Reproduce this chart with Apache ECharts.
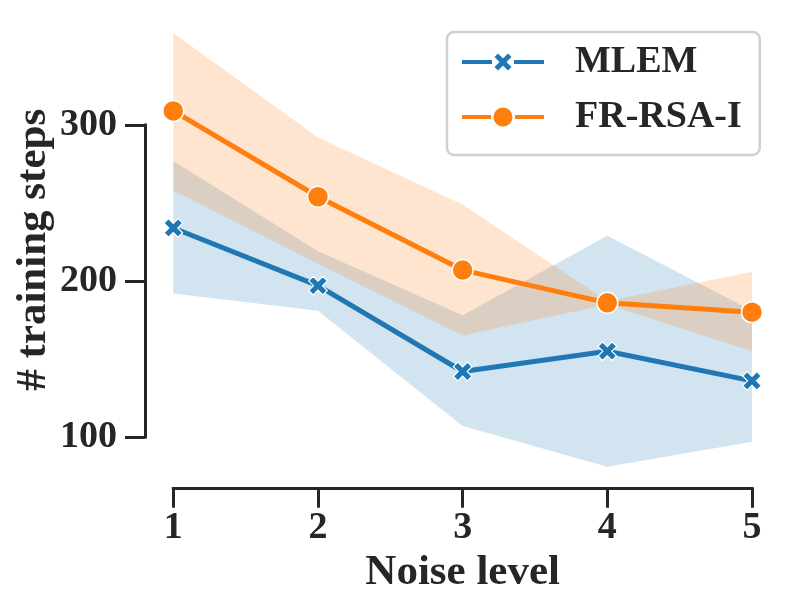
<!DOCTYPE html>
<html>
<head>
<meta charset="utf-8">
<script src="https://cdn.jsdelivr.net/npm/echarts@6/dist/echarts.min.js"></script>
<style>
html,body{margin:0;padding:0;background:#fff;}
#chart{width:794px;height:606px;}
</style>
</head>
<body>
<div id="chart"></div>
<script>
// ---- data ----
const noiseLevels = ['1', '2', '3', '4', '5'];
const mlemMean  = [234, 197, 142, 155, 136];
const mlemLower = [192, 181, 107, 81, 97];
const mlemUpper = [277, 219, 178, 229, 181];
const frMean    = [309, 254, 207, 186, 180];
const frLower   = [258, 211, 165, 185, 155];
const frUpper   = [359, 292, 249, 187, 206];
const yTicks = [100, 200, 300];
const seriesNames = ['MLEM', 'FR-RSA-I'];

// ---- style ----
const BLUE = '#1f77b4', ORANGE = '#ff7f0e', INK = '#262626';
const FONT = '"Liberation Serif", "Times New Roman", serif';
const XPATH = 'path://M3.4,0L6.6,0L6.6,3.4L10,3.4L10,6.6L6.6,6.6L6.6,10L3.4,10L3.4,6.6L0,6.6L0,3.4L3.4,3.4Z';
const LEG_X = 'path://M0,0L0,20M0,8L30,8L30,12L0,12ZM52,8L82,8L82,12L52,12Z' +
  'M32.5,5.04L36.04,1.5L41,6.46L45.96,1.5L49.5,5.04L44.46,10L49.5,14.96L45.96,18.5L41,13.54L36.04,18.5L32.5,14.96L37.54,10Z';
const LEG_O = 'path://M0,8L29,8L29,12L0,12ZM53,8L82,8L82,12L53,12Z' +
  'M31.5,10A9.5,9.5 0 1,1 50.5,10A9.5,9.5 0 1,1 31.5,10ZM41,0L41,20';

const diff = (u, l) => u.map((v, i) => v - l[i]);

const chart = echarts.init(document.getElementById('chart'), null, {renderer: 'canvas'});

function band(stack, lower, upper, color) {
  return [
    {type: 'line', name: stack + '_lo', stack: stack, data: lower, symbol: 'none',
     lineStyle: {opacity: 0}, silent: true, z: 1},
    {type: 'line', name: stack + '_hi', stack: stack, data: diff(upper, lower), symbol: 'none',
     lineStyle: {opacity: 0}, areaStyle: {color: color, opacity: 0.2}, silent: true, z: 1}
  ];
}

const legendItemStyle = c => ({color: c, borderWidth: 0, borderColor: 'transparent'});

const option = {
  animation: false,
  backgroundColor: '#fff',
  textStyle: {fontFamily: FONT},
  grid: [
    {left: 173.3, right: 42, top: 15.8, bottom: 122.2},
    {left: 145, width: 1, top: 125, bottom: 169}
  ],
  xAxis: [
    {gridIndex: 0, type: 'category', data: noiseLevels, boundaryGap: false, offset: 4,
     axisLine: {show: true, lineStyle: {color: INK, width: 3, cap: 'square'}},
     axisTick: {show: true, length: 20, lineStyle: {color: INK, width: 3}},
     axisLabel: {color: INK, fontFamily: FONT, fontWeight: 'bold', fontSize: 38, margin: 21},
     splitLine: {show: false},
     name: 'Noise level', nameLocation: 'middle', nameGap: 61,
     nameTextStyle: {color: INK, fontFamily: FONT, fontWeight: 'bold', fontSize: 43}},
    {gridIndex: 1, type: 'value', min: 0, max: 1, show: false}
  ],
  yAxis: [
    {gridIndex: 0, type: 'value', min: 70, max: 370,
     axisLine: {show: false}, axisTick: {show: false}, axisLabel: {show: false},
     splitLine: {show: false},
     name: '# training steps', nameLocation: 'middle', nameGap: 118, nameRotate: 90,
     nameTextStyle: {color: INK, fontFamily: FONT, fontWeight: 'bold', fontSize: 43}},
    {gridIndex: 1, type: 'value', min: yTicks[0], max: yTicks[yTicks.length - 1], interval: 100,
     axisLine: {show: true, lineStyle: {color: INK, width: 3, cap: 'square'}},
     axisTick: {show: true, length: 20, lineStyle: {color: INK, width: 3}},
     axisLabel: {color: INK, fontFamily: FONT, fontWeight: 'bold', fontSize: 38, margin: 28},
     splitLine: {show: false}}
  ],
  legend: {
    data: [{name: seriesNames[0], icon: LEG_X, itemStyle: legendItemStyle(BLUE)},
           {name: seriesNames[1], icon: LEG_O, itemStyle: legendItemStyle(ORANGE)}],
    orient: 'vertical',
    left: 447, top: 32,
    padding: [10, 18, 18, 15],
    itemWidth: 82, itemHeight: 20, itemGap: 15,
    borderColor: '#d0d0d0', borderWidth: 2.5, borderRadius: 7,
    backgroundColor: '#fff',
    textStyle: {color: INK, fontFamily: FONT, fontWeight: 'bold', fontSize: 38,
                lineHeight: 40, padding: [0, 0, 0, 26]}
  },
  series: [
    ...band('mlemBand', mlemLower, mlemUpper, BLUE),
    ...band('frBand', frLower, frUpper, ORANGE),
    {type: 'line', name: seriesNames[0], data: mlemMean, z: 5,
     symbol: XPATH, symbolSize: 20, symbolRotate: 45, showSymbol: true,
     itemStyle: {color: BLUE, borderColor: '#fff', borderWidth: 1.2},
     lineStyle: {color: BLUE, width: 5}},
    {type: 'line', name: seriesNames[1], data: frMean, z: 5,
     symbol: 'circle', symbolSize: 21, showSymbol: true,
     itemStyle: {color: ORANGE, borderColor: '#fff', borderWidth: 1.5},
     lineStyle: {color: ORANGE, width: 5}}
  ]
};
chart.setOption(option);
</script>
</body>
</html>
